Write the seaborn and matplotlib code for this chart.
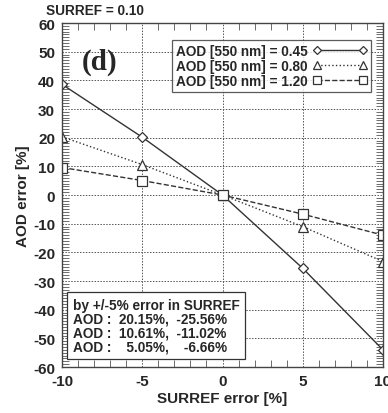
import numpy as np
import pandas as pd
import matplotlib
matplotlib.use("Agg")
import matplotlib.pyplot as plt
from matplotlib.ticker import MultipleLocator
import seaborn as sns

# data
surref_err = [-10, -5, 0, 5, 10]
aod_045 = [38.6, 20.15, 0.0, -25.56, -54.0]
aod_080 = [20.3, 10.61, 0.0, -11.02, -23.2]
aod_120 = [9.6, 5.05, 0.0, -6.66, -14.0]
labels = ["AOD [550 nm] = 0.45", "AOD [550 nm] = 0.80", "AOD [550 nm] = 1.20"]
summary = ["by +/-5% error in SURREF",
           "AOD :  20.15%,  -25.56%",
           "AOD :  10.61%,  -11.02%",
           "AOD :    5.05%,    -6.66%"]

sns.set_style("ticks")
plt.rcParams['font.family'] = ['Liberation Sans', 'DejaVu Sans']
plt.rcParams['font.weight'] = 'bold'
plt.rcParams['axes.unicode_minus'] = False

fig = plt.figure(figsize=(3.88, 4.14), dpi=100)
ax = fig.add_axes([0.160, 0.111, 0.827, 0.831])

styles = [('D', '-', 5), ('^', ':', 6.5), ('s', '--', 6.5)]
for vals, lab, (mk, ls, ms) in zip([aod_045, aod_080, aod_120], labels, styles):
    df = pd.DataFrame({'x': surref_err, 'y': vals})
    sns.lineplot(data=df, x='x', y='y', ax=ax, color='#333333', linewidth=1.0,
                 linestyle=ls, marker=mk, markersize=ms,
                 markerfacecolor='white', markeredgecolor='#333333',
                 markeredgewidth=0.9, label=lab)

ax.set_xlim(-10, 10)
ax.set_ylim(-60, 60)
ax.xaxis.set_major_locator(MultipleLocator(5))
ax.xaxis.set_minor_locator(MultipleLocator(1))
ax.yaxis.set_major_locator(MultipleLocator(10))
ax.yaxis.set_minor_locator(MultipleLocator(1))
ax.tick_params(which='both', direction='in', top=True, right=True, labelsize=11)
ax.tick_params(which='major', length=0, pad=5)
ax.tick_params(which='minor', length=5, width=0.6, color='#555555')
for lbl in ax.get_xticklabels() + ax.get_yticklabels():
    lbl.set_fontweight('bold')
ax.grid(True, which='major', linestyle=(0, (1.5, 1.5)), color='#555555', linewidth=0.7)
for sp in ax.spines.values():
    sp.set_linewidth(1.0)
    sp.set_color('#444444')

ax.set_xlabel("SURREF error [%]", fontsize=11, fontweight='bold', labelpad=2)
ax.set_ylabel("AOD error [%]", fontsize=11, fontweight='bold', labelpad=2)

leg = ax.legend(loc='upper right', markerfirst=False, numpoints=2, handlelength=4.0,
                fontsize=9.8, frameon=True, fancybox=False, borderpad=0.3,
                labelspacing=0.05, handletextpad=0.4, bbox_to_anchor=(0.985, 0.97),
                markerscale=0.8)
leg.get_frame().set_edgecolor('#333333')
leg.get_frame().set_linewidth(0.9)
for t in leg.get_texts():
    t.set_fontweight('bold')

ax.text(-8.8, 46.5, "(d)", fontsize=21, fontweight='bold',
        family=['Liberation Serif', 'DejaVu Serif'], va='center', ha='left')

ax.text(-9.35, -55.3, "\n".join(summary), fontsize=9.8, fontweight='bold',
        va='bottom', ha='left', linespacing=1.0,
        bbox=dict(boxstyle='square,pad=0.4', facecolor='white', edgecolor='#333333',
                  linewidth=0.9))

fig.text(0.118, 0.974, "SURREF = 0.10", fontsize=9.8, fontweight='bold',
         ha='left', va='center')

fig.savefig("out.png", dpi=100)
